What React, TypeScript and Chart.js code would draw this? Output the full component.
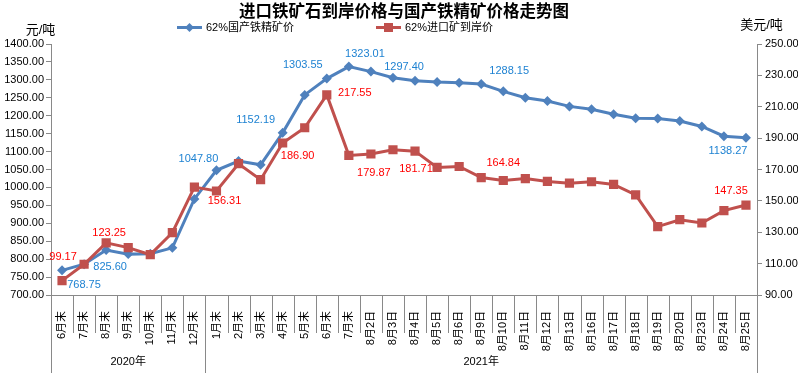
import React, { useEffect, useRef } from 'react';
import { Chart, registerables } from 'chart.js';

Chart.register(...registerables);

// ---------- data ----------
const categories = [
  '6月末', '7月末', '8月末', '9月末', '10月末', '11月末', '12月末',
  '1月末', '2月末', '3月末', '4月末', '5月末', '6月末', '7月末',
  '8月2日', '8月3日', '8月4日', '8月5日', '8月6日', '8月9日', '8月10日',
  '8月11日', '8月12日', '8月13日', '8月16日', '8月17日', '8月18日', '8月19日',
  '8月20日', '8月23日', '8月24日', '8月25日',
];
const groupLabels = ['2020年', '2021年'];
const groupSizes = [7, 25];

const domesticPrice = [
  768.75, 786, 825.6, 814, 815, 831.5, 968, 1047.8, 1073.7, 1063, 1152.19,
  1258, 1303.55, 1337, 1323.01, 1306, 1297.4, 1294, 1292, 1288.15, 1268,
  1250, 1241, 1226, 1218, 1204, 1193, 1192, 1185, 1170, 1143, 1138.27,
];
const importPrice = [
  99.17, 109.6, 123.25, 120.2, 115.7, 129.7, 158.8, 156.31, 173.7, 163.5,
  186.9, 196.6, 217.55, 179.0, 179.87, 182.6, 181.71, 171.3, 171.9, 164.84,
  163.0, 164.2, 162.4, 161.3, 162.2, 160.5, 153.8, 133.6, 138.0, 135.9, 143.8,
  147.35,
];
const domesticLabelIdx = [0, 2, 7, 10, 12, 14, 16, 19, 31];
const importLabelIdx = [0, 2, 7, 10, 12, 14, 16, 19, 31];

const seriesNames = ['62%国产铁精矿价', '62%进口矿到岸价'];
const titleText = '进口铁矿石到岸价格与国产铁精矿价格走势图';
const leftUnit = '元/吨';
const rightUnit = '美元/吨';
const leftMin = 700, leftMax = 1400, leftStep = 50;
const rightMin = 90, rightMax = 250, rightStep = 20;

// ---------- styles ----------
const BLUE = '#4F81BD';
const RED = '#C0504D';
const BLUE_TXT = '#1E82D2';
const RED_TXT = '#FF0000';
const AXIS = '#898989';
const FONT = "'Liberation Sans', 'Noto Sans CJK SC', sans-serif";
// label offsets (dx, dy) from point centre to label centre
const domesticLabelOffsets = [
  [22, 15], [4, 17], [-18, -11], [-27, -13], [-24, -14], [-6, -18], [-11, -14], [28, -13], [-18, 13.5],
];
const importLabelOffsets = [
  [1, -24], [3, -10], [8, 10], [15, 13], [28, -2], [3, 19], [1, 18], [22, -15], [-15, -14],
];

const overlayPlugin = {
  id: 'overlay',
  afterDraw(chart: any) {
    const ctx = chart.ctx as CanvasRenderingContext2D;
    const { left, right, top, bottom } = chart.chartArea;
    const xs = chart.scales.x;
    const H = chart.height;
    ctx.save();

    // category separators and group boundaries
    const w = xs.getPixelForValue(1) - xs.getPixelForValue(0);
    const groupBounds = new Set<number>([0]);
    let acc = 0;
    groupSizes.forEach((s) => { acc += s; groupBounds.add(acc); });
    ctx.strokeStyle = AXIS;
    ctx.lineWidth = 1;
    for (let k = 0; k <= categories.length; k++) {
      const bx = Math.round(xs.getPixelForValue(k) - w / 2) + 0.5;
      ctx.beginPath();
      ctx.moveTo(bx, bottom);
      ctx.lineTo(bx, groupBounds.has(k) ? H : bottom + 38);
      ctx.stroke();
    }
    // group labels
    ctx.fillStyle = '#000';
    ctx.font = `11px ${FONT}`;
    ctx.textAlign = 'center';
    ctx.textBaseline = 'middle';
    let start = 0;
    groupSizes.forEach((s, g) => {
      const x0 = xs.getPixelForValue(start) - w / 2;
      const x1 = xs.getPixelForValue(start + s - 1) + w / 2;
      ctx.fillText(groupLabels[g], (x0 + x1) / 2, bottom + 67);
      start += s;
    });

    // data labels
    const drawLabels = (di: number, idx: number[], offs: number[][], vals: number[], color: string) => {
      const meta = chart.getDatasetMeta(di);
      ctx.fillStyle = color;
      ctx.font = `11px ${FONT}`;
      idx.forEach((i, j) => {
        const p = meta.data[i];
        ctx.fillText(vals[i].toFixed(2), p.x + offs[j][0], p.y + offs[j][1]);
      });
    };
    drawLabels(0, domesticLabelIdx, domesticLabelOffsets, domesticPrice, BLUE_TXT);
    drawLabels(1, importLabelIdx, importLabelOffsets, importPrice, RED_TXT);

    // title
    ctx.fillStyle = '#000';
    ctx.font = `bold 16.5px 'Noto Sans CJK SC', sans-serif`;
    ctx.fillText(titleText, 404, 11);

    // axis unit titles
    ctx.font = `13px ${FONT}`;
    ctx.fillText(leftUnit, 40.5, 30);
    ctx.fillText(rightUnit, 761.5, 25);

    // legend
    const ly = 27.5;
    const legend = [
      { x0: 177, color: BLUE, marker: 'diamond', name: seriesNames[0] },
      { x0: 376, color: RED, marker: 'square', name: seriesNames[1] },
    ];
    legend.forEach((it) => {
      ctx.strokeStyle = it.color;
      ctx.lineWidth = 3;
      ctx.beginPath();
      ctx.moveTo(it.x0, ly);
      ctx.lineTo(it.x0 + 25, ly);
      ctx.stroke();
      ctx.fillStyle = it.color;
      const cx = it.x0 + 12.5;
      ctx.beginPath();
      if (it.marker === 'diamond') {
        ctx.moveTo(cx, ly - 4.5); ctx.lineTo(cx + 4.5, ly); ctx.lineTo(cx, ly + 4.5); ctx.lineTo(cx - 4.5, ly);
        ctx.closePath();
      } else {
        ctx.rect(cx - 4.5, ly - 4.5, 9, 9);
      }
      ctx.fill();
      ctx.fillStyle = '#000';
      ctx.font = `11px ${FONT}`;
      ctx.textAlign = 'left';
      ctx.fillText(it.name, it.x0 + 29, ly);
    });

    ctx.restore();
  },
};

export default function App() {
  const ref = useRef<HTMLCanvasElement | null>(null);
  useEffect(() => {
    if (!ref.current) return;
    const tickFont = { size: 11, family: FONT };
    const chart = new Chart(ref.current, {
      type: 'line',
      data: {
        labels: categories,
        datasets: [
          {
            label: seriesNames[0],
            data: domesticPrice,
            yAxisID: 'y',
            borderColor: BLUE,
            backgroundColor: BLUE,
            borderWidth: 3,
            pointStyle: 'rectRot',
            pointRadius: 5,
            pointBorderWidth: 0,
            tension: 0,
            order: 1,
          },
          {
            label: seriesNames[1],
            data: importPrice,
            yAxisID: 'y1',
            borderColor: RED,
            backgroundColor: RED,
            borderWidth: 3,
            pointStyle: 'rect',
            pointRadius: 6.5,
            pointBorderWidth: 0,
            tension: 0,
            order: 0,
          },
        ],
      },
      options: {
        responsive: false,
        animation: false,
        devicePixelRatio: 1,
        layout: { padding: { top: 44, left: 0, right: 0, bottom: 0 } },
        plugins: {
          legend: { display: false },
          title: { display: false },
          tooltip: { enabled: false },
        },
        scales: {
          x: {
            type: 'category',
            offset: true,
            grid: { display: false },
            border: { display: true, color: AXIS, width: 1 },
            ticks: {
              autoSkip: false,
              minRotation: 90,
              maxRotation: 90,
              padding: 8,
              font: tickFont,
              color: '#000',
            },
            afterFit: (s: any) => { s.height = 78; },
          },
          y: {
            position: 'left',
            min: leftMin,
            max: leftMax,
            ticks: {
              stepSize: leftStep,
              font: tickFont,
              color: '#000',
              padding: 2,
              callback: (v: any) => Number(v).toFixed(2),
            },
            grid: { drawOnChartArea: false, drawTicks: true, tickLength: 5, color: AXIS },
            border: { display: true, color: AXIS, width: 1 },
            afterFit: (s: any) => { s.width = 51; },
          },
          y1: {
            position: 'right',
            min: rightMin,
            max: rightMax,
            ticks: {
              stepSize: rightStep,
              font: tickFont,
              color: '#000',
              padding: 3,
              callback: (v: any) => Number(v).toFixed(2),
            },
            grid: { drawOnChartArea: false, drawTicks: true, tickLength: 5, color: AXIS },
            border: { display: true, color: AXIS, width: 1 },
            afterFit: (s: any) => { s.width = 41; },
          },
        },
      },
      plugins: [overlayPlugin],
    } as any);
    return () => chart.destroy();
  }, []);
  return (
    <div style={{ position: 'absolute', left: 0, top: 0, width: 798, height: 373, background: '#fff' }}>
      <canvas ref={ref} width={798} height={373} style={{ display: 'block' }} />
    </div>
  );
}
